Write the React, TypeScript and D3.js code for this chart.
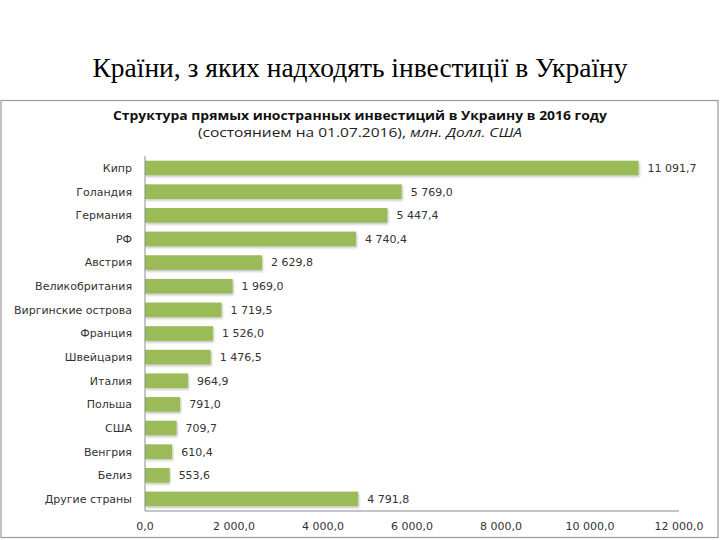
import React from 'react';
import * as d3 from 'd3';

const countries = [
  'Кипр', 'Голандия', 'Германия', 'РФ', 'Австрия', 'Великобритания',
  'Виргинские острова', 'Франция', 'Швейцария', 'Италия', 'Польша',
  'США', 'Венгрия', 'Белиз', 'Другие страны',
];
const amounts = [
  11091.7, 5769.0, 5447.4, 4740.4, 2629.8, 1969.0, 1719.5, 1526.0,
  1476.5, 964.9, 791.0, 709.7, 610.4, 553.6, 4791.8,
];
const xTicks = [0, 2000, 4000, 6000, 8000, 10000, 12000];

const width = 720;
const height = 540;
const plot = { left: 145, right: 679, top: 156, bottom: 511 };

const fmt = (v: number) => {
  const [i, f] = v.toFixed(1).split('.');
  return i.replace(/\B(?=(\d{3})+(?!\d))/g, ' ') + ',' + f;
};

export default function App() {
  const x = d3.scaleLinear().domain([0, 12000]).range([plot.left, plot.right]);
  const y = d3.scaleBand<string>().domain(countries).range([plot.top, plot.bottom]).paddingInner(0.38).paddingOuter(0.2);
  const font = '"DejaVu Sans", Verdana, sans-serif';

  return (
    <svg width={width} height={height} style={{ position: 'absolute', left: 0, top: 0 }}>
      <defs>
        <filter id="sh" x="-5%" y="-30%" width="110%" height="180%">
          <feDropShadow dx="1" dy="1.5" stdDeviation="0.8" floodColor="#000" floodOpacity="0.25" />
        </filter>
      </defs>
      <text x={360} y={77} textAnchor="middle" fontFamily='"Liberation Serif", "Times New Roman", serif' fontSize={27.5} fill="#000">
        Країни, з яких надходять інвестиції в Україну
      </text>
      <rect x={1} y={100.5} width={717} height={437} fill="#fff" stroke="#9a9a9a" strokeWidth={1.2} />
      <text x={360} y={120} textAnchor="middle" fontFamily='"Open Sans", "DejaVu Sans", sans-serif' fontWeight="bold" fontSize={12} fill="#111"
        textLength={494} lengthAdjust="spacingAndGlyphs">
        Структура прямых иностранных инвестиций в Украину в 2016 году
      </text>
      <text x={360} y={137} textAnchor="middle" fontFamily='"Open Sans", "DejaVu Sans", sans-serif' fontSize={12} fill="#222"
        textLength={324} lengthAdjust="spacingAndGlyphs">
        (состоянием на 01.07.2016), <tspan fontStyle="italic">млн. Долл. США</tspan>
      </text>

      {countries.map((c, i) => (
        <g key={c}>
          <rect x={x(0)} y={y(c)!} width={x(amounts[i]) - x(0)} height={y.bandwidth()} fill="#9bbb59" filter="url(#sh)" />
          <text x={plot.left - 13} y={y(c)! + y.bandwidth() / 2} dy="0.35em" textAnchor="end" fontFamily={font} fontSize={11} fill="#333">
            {c}
          </text>
          <text x={x(amounts[i]) + 9} y={y(c)! + y.bandwidth() / 2} dy="0.35em" fontFamily={font} fontSize={11} fill="#333">
            {fmt(amounts[i])}
          </text>
        </g>
      ))}

      <line x1={plot.left} x2={plot.left} y1={plot.top} y2={plot.bottom} stroke="#8c8c8c" />
      <line x1={plot.left} x2={plot.right} y1={plot.bottom} y2={plot.bottom} stroke="#8c8c8c" />
      {xTicks.map(t => (
        <text key={t} x={x(t)} y={530} textAnchor="middle" fontFamily={font} fontSize={11} fill="#333">
          {fmt(t)}
        </text>
      ))}
    </svg>
  );
}
